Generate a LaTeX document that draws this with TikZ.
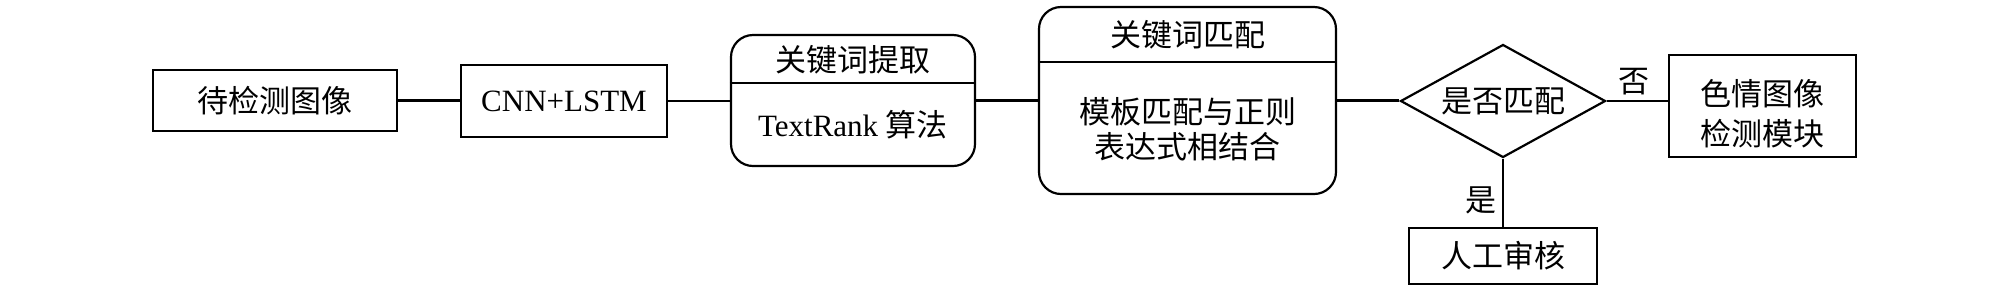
\documentclass[tikz,border=0pt]{standalone}
\usepackage{fontspec}
\setmainfont{Liberation Serif}
\newfontfamily\cjk{Noto Sans CJK SC}
\usetikzlibrary{shapes.geometric}
\begin{document}
\begin{tikzpicture}[x=0.5pt,y=-0.5pt,
  txt/.style={inner sep=0pt, font=\fontsize{15.5}{18}\selectfont},
  box/.style={draw, line width=1.1pt, rectangle, inner sep=0pt, font=\fontsize{15.5}{18}\selectfont},
  rbox/.style={box, rounded corners=11pt},
  link/.style={line width=1.1pt},
  dec/.style={draw, diamond, line width=1.1pt, inner sep=0pt, aspect=1.8, font=\fontsize{15.5}{18}\selectfont}]
\useasboundingbox (0,0) rectangle (2008,291);

\node[box, minimum width=122pt, minimum height=30.5pt] (n1) at (275,100.5) {\cjk 待检测图像};
\node[box, minimum width=103pt, minimum height=36pt] (n2) at (564,101) {CNN+LSTM};

\node[rbox, minimum width=122pt, minimum height=65.5pt] (n3) at (853,100.5) {};
\coordinate (n3d) at (853,83);
\draw[link] (n3d -| n3.west) -- (n3d -| n3.east);
\node[txt] (n3t) at (853,60) {\cjk 关键词提取};
\node[txt] (n3b) at (853,125) {TextRank {\cjk 算法}};

\node[rbox, minimum width=148.5pt, minimum height=93.5pt] (n4) at (1187.5,100.5) {};
\coordinate (n4d) at (1187.5,62);
\draw[link] (n4d -| n4.west) -- (n4d -| n4.east);
\node[txt] (n4t) at (1187.5,35) {\cjk 关键词匹配};
\node[txt] (n4b1) at (1187.5,112) {\cjk 模板匹配与正则};
\node[txt] (n4b2) at (1187.5,147) {\cjk 表达式相结合};

\node[dec, minimum width=102.5pt, minimum height=56.5pt] (d) at (1503,101) {\cjk 是否匹配};

\node[box, minimum width=93.5pt, minimum height=51pt] (n5) at (1762.5,106) {};
\node[txt] (n5a) at (1762.5,94) {\cjk 色情图像};
\node[txt] (n5b) at (1762.5,134) {\cjk 检测模块};

\node[box, minimum width=94pt, minimum height=28pt] (n6) at (1503,256) {\cjk 人工审核};

\draw[link] (n1.east) -- (n1.east -| n2.west);
\draw[link] (n2.east) -- (n2.east -| n3.west);
\draw[link] (n3.east) -- (n4.west);
\draw[link] (n4.east) -- (n4.east -| d.west);
\draw[link] (d.east) -- (d.east -| n5.west);
\draw[link] (d.south) -- (n6.north);

\node[txt] (lno) at (1634,82) {\cjk 否};
\node[txt] (lyes) at (1481,200) {\cjk 是};
\end{tikzpicture}
\end{document}
